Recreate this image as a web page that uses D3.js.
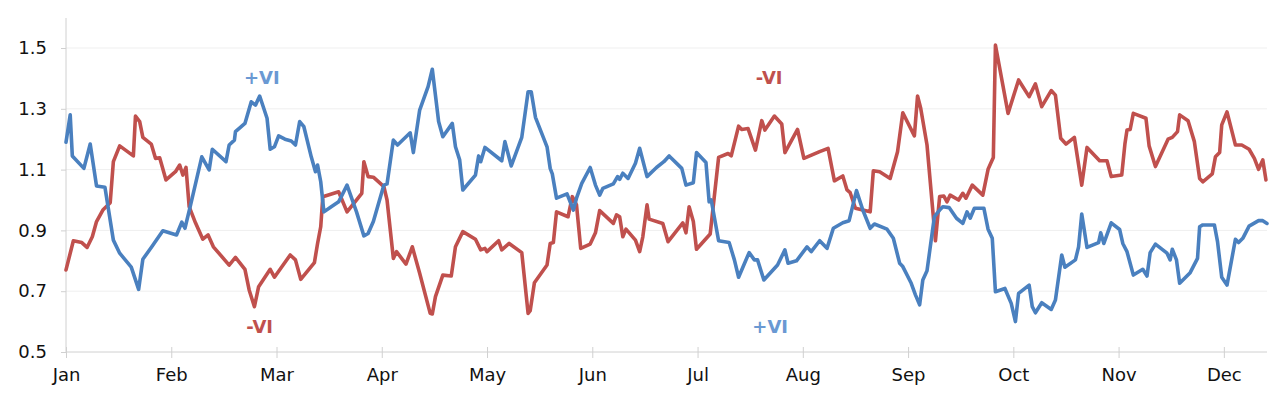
<!DOCTYPE html>
<html>
<head>
<meta charset="utf-8">
<script src="https://cdn.jsdelivr.net/npm/d3@7"></script>
<style>
  body { margin: 0; background: #fff; }
  svg { display: block; font-family: "DejaVu Sans", Verdana, sans-serif; }
</style>
</head>
<body>
<svg id="chart"></svg>
<script>
// month labels (evenly spaced trading-calendar axis)
const months = ["Jan", "Feb", "Mar", "Apr", "May", "Jun", "Jul", "Aug", "Sep", "Oct", "Nov", "Dec"];
const yTicks = [0.5, 0.7, 0.9, 1.1, 1.3, 1.5];

// +VI: position in months since Jan, value
const plusT = [0.00, 0.04, 0.06, 0.17, 0.23, 0.29, 0.37, 0.45, 0.51, 0.62, 0.69, 0.73, 0.81, 0.92, 1.05, 1.10, 1.13, 1.18, 1.29, 1.36,
  1.39, 1.52, 1.55, 1.60, 1.61, 1.70, 1.76, 1.80, 1.84, 1.91, 1.94, 1.98, 2.02, 2.08, 2.14, 2.18, 2.22, 2.26, 2.33, 2.37,
  2.39, 2.42, 2.45, 2.52, 2.59, 2.67, 2.76, 2.83, 2.87, 2.92, 3.02, 3.05, 3.11, 3.15, 3.27, 3.30, 3.36, 3.44, 3.48, 3.54,
  3.58, 3.67, 3.70, 3.74, 3.77, 3.89, 3.92, 3.94, 3.98, 4.14, 4.17, 4.23, 4.33, 4.39, 4.42, 4.46, 4.57, 4.60, 4.62, 4.66,
  4.76, 4.82, 4.85, 4.90, 4.98, 5.03, 5.07, 5.10, 5.20, 5.24, 5.26, 5.29, 5.34, 5.41, 5.45, 5.52, 5.61, 5.68, 5.73, 5.85,
  5.89, 5.96, 5.99, 6.08, 6.11, 6.13, 6.20, 6.30, 6.35, 6.39, 6.49, 6.54, 6.57, 6.63, 6.76, 6.83, 6.86, 6.94, 7.04, 7.08,
  7.16, 7.23, 7.29, 7.38, 7.44, 7.51, 7.57, 7.64, 7.68, 7.80, 7.86, 7.92, 7.95, 8.03, 8.07, 8.11, 8.14, 8.18, 8.25, 8.30,
  8.33, 8.39, 8.46, 8.52, 8.56, 8.59, 8.63, 8.72, 8.76, 8.80, 8.83, 8.92, 8.98, 9.02, 9.05, 9.15, 9.18, 9.21, 9.27, 9.36,
  9.40, 9.46, 9.49, 9.59, 9.62, 9.65, 9.70, 9.81, 9.83, 9.86, 9.93, 10.01, 10.04, 10.08, 10.14, 10.23, 10.27, 10.30, 10.35, 10.46,
  10.49, 10.51, 10.55, 10.58, 10.68, 10.75, 10.77, 10.80, 10.91, 10.94, 10.98, 11.03, 11.11, 11.14, 11.18, 11.24, 11.33, 11.37, 11.41];
const plusVI = [1.19, 1.28, 1.145, 1.104, 1.184, 1.046, 1.042, 0.868, 0.825, 0.779, 0.706, 0.805, 0.844, 0.899, 0.885, 0.927, 0.907, 0.978, 1.142, 1.099,
  1.167, 1.126, 1.181, 1.197, 1.225, 1.252, 1.323, 1.312, 1.342, 1.269, 1.167, 1.175, 1.211, 1.2, 1.194, 1.181, 1.258, 1.241, 1.142, 1.093,
  1.115, 1.06, 0.961, 0.978, 0.994, 1.049, 0.961, 0.882, 0.89, 0.929, 1.049, 1.053, 1.197, 1.181, 1.221, 1.156, 1.296, 1.373, 1.43, 1.258,
  1.208, 1.252, 1.175, 1.132, 1.033, 1.082, 1.145, 1.126, 1.173, 1.129, 1.192, 1.112, 1.206, 1.356, 1.356, 1.272, 1.175, 1.104, 1.086, 1.006,
  1.02, 0.967, 1.006, 1.055, 1.107, 1.049, 1.016, 1.038, 1.053, 1.077, 1.068, 1.088, 1.071, 1.121, 1.17, 1.077, 1.107, 1.126, 1.145, 1.104,
  1.049, 1.057, 1.156, 1.123, 0.994, 1.0, 0.866, 0.86, 0.803, 0.746, 0.827, 0.803, 0.803, 0.737, 0.786, 0.836, 0.792, 0.8, 0.846, 0.83,
  0.866, 0.841, 0.907, 0.925, 0.932, 1.031, 0.967, 0.907, 0.921, 0.904, 0.874, 0.792, 0.781, 0.726, 0.688, 0.655, 0.737, 0.767, 0.945, 0.967,
  0.978, 0.975, 0.94, 0.923, 0.961, 0.94, 0.973, 0.973, 0.904, 0.874, 0.698, 0.709, 0.66, 0.6, 0.693, 0.72, 0.649, 0.629, 0.662, 0.64,
  0.671, 0.819, 0.779, 0.803, 0.846, 0.954, 0.844, 0.86, 0.892, 0.857, 0.925, 0.903, 0.857, 0.83, 0.753, 0.772, 0.75, 0.827, 0.855, 0.825,
  0.803, 0.838, 0.803, 0.726, 0.761, 0.808, 0.912, 0.918, 0.918, 0.863, 0.746, 0.72, 0.871, 0.86, 0.874, 0.914, 0.932, 0.932, 0.923];

// -VI: position in months since Jan, value
const minusT = [0.00, 0.07, 0.15, 0.20, 0.25, 0.29, 0.35, 0.42, 0.45, 0.51, 0.64, 0.66, 0.70, 0.73, 0.81, 0.85, 0.89, 0.95, 1.04, 1.08,
  1.11, 1.14, 1.17, 1.23, 1.30, 1.35, 1.40, 1.55, 1.61, 1.70, 1.74, 1.79, 1.83, 1.94, 1.98, 2.13, 2.18, 2.23, 2.36, 2.39,
  2.42, 2.44, 2.59, 2.67, 2.81, 2.83, 2.87, 2.92, 3.02, 3.05, 3.11, 3.14, 3.23, 3.29, 3.36, 3.46, 3.48, 3.51, 3.58, 3.66,
  3.70, 3.77, 3.89, 3.94, 3.98, 4.00, 4.11, 4.14, 4.21, 4.33, 4.39, 4.41, 4.45, 4.57, 4.60, 4.63, 4.66, 4.77, 4.81, 4.85,
  4.89, 4.98, 5.03, 5.07, 5.20, 5.23, 5.26, 5.29, 5.32, 5.41, 5.45, 5.48, 5.52, 5.54, 5.67, 5.72, 5.86, 5.89, 5.92, 5.96,
  5.99, 6.12, 6.20, 6.29, 6.32, 6.39, 6.42, 6.48, 6.55, 6.61, 6.64, 6.73, 6.80, 6.83, 6.95, 7.01, 7.16, 7.24, 7.30, 7.38,
  7.42, 7.45, 7.50, 7.64, 7.67, 7.73, 7.83, 7.90, 7.95, 8.06, 8.09, 8.12, 8.18, 8.26, 8.30, 8.34, 8.37, 8.40, 8.48, 8.52,
  8.55, 8.61, 8.71, 8.76, 8.81, 8.83, 8.95, 9.05, 9.15, 9.21, 9.27, 9.36, 9.40, 9.45, 9.50, 9.58, 9.65, 9.70, 9.82, 9.89,
  9.93, 10.03, 10.06, 10.08, 10.11, 10.14, 10.26, 10.29, 10.35, 10.47, 10.51, 10.56, 10.58, 10.66, 10.72, 10.77, 10.80, 10.89, 10.92, 10.96,
  10.98, 11.03, 11.11, 11.17, 11.24, 11.29, 11.33, 11.37, 11.40];
const minusVI = [0.77, 0.866, 0.86, 0.844, 0.879, 0.929, 0.967, 0.991, 1.126, 1.178, 1.145, 1.276, 1.258, 1.206, 1.184, 1.137, 1.139, 1.066, 1.093, 1.115,
  1.082, 1.107, 0.978, 0.925, 0.871, 0.885, 0.846, 0.786, 0.811, 0.772, 0.704, 0.649, 0.715, 0.772, 0.746, 0.819, 0.803, 0.739, 0.794, 0.857,
  0.912, 1.011, 1.027, 0.961, 1.022, 1.126, 1.077, 1.075, 1.044, 1.0, 0.808, 0.83, 0.789, 0.846, 0.759, 0.627, 0.625, 0.682, 0.753, 0.75,
  0.846, 0.896, 0.871, 0.836, 0.841, 0.83, 0.866, 0.836, 0.857, 0.827, 0.627, 0.636, 0.728, 0.786, 0.857, 0.86, 0.961, 0.945, 1.011, 0.984,
  0.841, 0.855, 0.892, 0.965, 0.923, 0.951, 0.945, 0.879, 0.904, 0.868, 0.83, 0.879, 0.984, 0.937, 0.923, 0.863, 0.925, 0.892, 0.978, 0.929,
  0.838, 0.888, 1.14, 1.153, 1.145, 1.243, 1.232, 1.235, 1.164, 1.261, 1.23, 1.276, 1.25, 1.156, 1.232, 1.137, 1.159, 1.17, 1.063, 1.079,
  1.033, 1.024, 0.973, 0.961, 1.096, 1.093, 1.071, 1.159, 1.287, 1.211, 1.342, 1.302, 1.181, 0.866, 1.011, 1.013, 0.994, 1.016, 1.0, 1.022,
  1.006, 1.049, 1.016, 1.101, 1.14, 1.51, 1.285, 1.395, 1.34, 1.382, 1.307, 1.36, 1.345, 1.203, 1.184, 1.206, 1.049, 1.173, 1.129, 1.129,
  1.077, 1.082, 1.184, 1.23, 1.232, 1.285, 1.269, 1.178, 1.11, 1.2, 1.206, 1.225, 1.28, 1.261, 1.192, 1.071, 1.06, 1.086, 1.142, 1.156,
  1.247, 1.29, 1.181, 1.181, 1.167, 1.137, 1.101, 1.132, 1.066];

// series labels: name, month position, value at baseline
const labelNames = ["+VI", "-VI", "-VI", "+VI"];
const labelT = [1.86, 1.84, 6.68, 6.69];
const labelV = [1.382, 0.563, 1.382, 0.563];
const labelSeries = ["plus", "minus", "minus", "plus"];

const W = 1280, H = 414;
const margin = { top: 18, right: 13, bottom: 62, left: 66 };
const colors = { plus: "#4a80bf", minus: "#c0504d" };
const labelColors = { plus: "#6a99d3", minus: "#c0504d" };

const svg = d3.select("#chart").attr("width", W).attr("height", H);

const x = d3.scaleLinear().domain([0, 11.41]).range([margin.left, W - margin.right]);
const y = d3.scaleLinear().domain([0.5, 0.5 + (H - margin.bottom - margin.top) / 304]).range([H - margin.bottom, margin.top]);

// gridlines
svg.append("g")
  .selectAll("line")
  .data(yTicks.slice(1))
  .join("line")
  .attr("x1", margin.left).attr("x2", W - margin.right)
  .attr("y1", d => y(d)).attr("y2", d => y(d))
  .attr("stroke", "#efefef").attr("stroke-width", 1);

// y axis
const yAxis = svg.append("g")
  .attr("transform", `translate(${margin.left},0)`)
  .call(d3.axisLeft(y).tickValues(yTicks).tickFormat(d3.format(".1f")).tickSize(5).tickPadding(14));
yAxis.select(".domain").attr("stroke", "#d0d0d0").attr("d", `M0,${margin.top}V${H - margin.bottom}`);
yAxis.selectAll(".tick line").attr("stroke", "#d0d0d0");
yAxis.selectAll(".tick text").attr("font-size", 18).attr("fill", "#111").attr("font-family", "DejaVu Sans, Verdana, sans-serif");

// x axis
const xAxis = svg.append("g")
  .attr("transform", `translate(0,${H - margin.bottom})`)
  .call(d3.axisBottom(x).tickValues(d3.range(months.length)).tickFormat(i => months[i]).tickSize(6).tickPadding(10));
xAxis.select(".domain").attr("stroke", "#d0d0d0").attr("d", `M${margin.left},0H${W - margin.right}`);
xAxis.selectAll(".tick line").attr("stroke", "#d0d0d0").attr("y1", -5);
xAxis.selectAll(".tick text").attr("font-size", 18).attr("fill", "#111").attr("font-family", "DejaVu Sans, Verdana, sans-serif");

// lines
const line = d3.line().x(d => x(d[0])).y(d => y(d[1]));
const series = [
  { key: "minus", data: d3.zip(minusT, minusVI) },
  { key: "plus", data: d3.zip(plusT, plusVI) }
];
svg.append("g")
  .selectAll("path")
  .data(series)
  .join("path")
  .attr("d", d => line(d.data))
  .attr("fill", "none")
  .attr("stroke", d => colors[d.key])
  .attr("stroke-width", 3.6)
  .attr("stroke-linejoin", "round")
  .attr("stroke-linecap", "round");

// series labels
svg.append("g")
  .selectAll("text")
  .data(labelNames.map((n, i) => ({ n, t: labelT[i], v: labelV[i], s: labelSeries[i] })))
  .join("text")
  .attr("x", d => x(d.t))
  .attr("y", d => y(d.v))
  .attr("text-anchor", "middle")
  .attr("font-size", 18)
  .attr("font-weight", "bold")
  .attr("fill", d => labelColors[d.s])
  .text(d => d.n);
</script>
</body>
</html>
